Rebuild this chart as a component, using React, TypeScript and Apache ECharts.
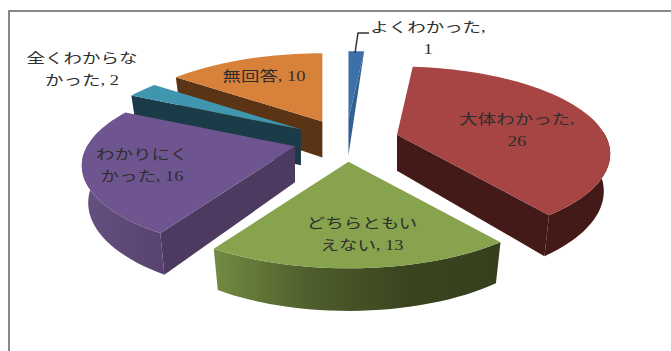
import React, { useEffect, useRef } from "react";
import * as echarts from "echarts";

const categories = ["よくわかった", "大体わかった", "どちらともいえない", "わかりにくかった", "全くわからなかった", "無回答"];
const values = [1, 26, 13, 16, 2, 10];
const labelTexts = ["よくわかった,\n1", "大体わかった,\n26", "どちらともい\nえない, 13", "わかりにく\nかった, 16", "全くわからな\nかった, 2", "無回答, 10"];

const topColors = ["#3d70a8", "#a64543", "#87a34d", "#6f558f", "#3f96ae", "#d8813b"];
const radialWall = ["#33608f", "#431a18", "#3f4b22", "#4d3a61", "#1b3b48", "#5a3414"];
const arcWallStops: string[][] = [
  ["#33608f", "#33608f"],
  ["#431a18", "#431a18"],
  ["#728b42", "#4e5e2c", "#3a4520", "#353f1c"],
  ["#66507f", "#574270"],
  ["#1b3b48", "#1b3b48"],
  ["#5a3414", "#5a3414"],
];
const labelCenters = [[428, 38], [517, 130], [362, 234], [142, 165], [82, 69], [264, 76]];

const CX = 346, CY = 140.5, R = 208, SQ = 0.4, P = 0.22, EXPLODE = 53, DEPTH = 36, SHRINK = 0.97;
const TOTAL = values.reduce((a, b) => a + b, 0);

function project(ax: number, ay: number, theta: number) {
  const u = Math.sin(theta), v = Math.cos(theta);
  const w = 1 + P * v;
  return { x: ax + (R * u) / w, y: ay - (R * SQ * v) / w, d: DEPTH / (1 + 0.7 * P * v) };
}

function renderItem(params: any, api: any) {
  const i = params.dataIndex;
  const before = values.slice(0, i).reduce((a, b) => a + b, 0);
  const a0 = (before / TOTAL) * Math.PI * 2;
  const a1 = ((before + values[i]) / TOTAL) * Math.PI * 2;
  const mid = (a0 + a1) / 2;
  const ax = CX + EXPLODE * Math.sin(mid);
  const ay = CY - EXPLODE * SQ * Math.cos(mid);
  const lowerX = (x: number) => ax + (x - ax) * SHRINK;

  const N = Math.max(4, Math.round((a1 - a0) / 0.04));
  const arc: any[] = [];
  for (let k = 0; k <= N; k++) arc.push(project(ax, ay, a0 + ((a1 - a0) * k) / N));
  const top = [[ax, ay], ...arc.map((p) => [p.x, p.y])];
  const children: any[] = [];
  const z = 10 + Math.round((1 - Math.cos(mid)) * 20);

  const addRadial = (p: any, other: any) => {
    const ex = p.x - ax, ey = p.y - ay;
    const crossM = ex * (other.y - ay) - ey * (other.x - ax);
    if (ex * crossM >= 0) return;
    const narrow = i === 0;
    children.push({
      type: "polygon",
      z2: z,
      shape: { points: [[ax, ay], [p.x, p.y], narrow ? [p.x, p.y] : [lowerX(p.x), p.y + p.d], [ax, ay + DEPTH]] },
      style: { fill: radialWall[i] },
    });
  };
  addRadial(arc[0], arc[N]);
  addRadial(arc[N], arc[0]);

  const front: any[] = [];
  for (let k = 0; k <= N; k++) {
    const t = a0 + ((a1 - a0) * k) / N;
    if (Math.cos(t) < 0.05) front.push(arc[k]);
  }
  if (front.length > 1) {
    const stops = arcWallStops[i];
    children.push({
      type: "polygon",
      z2: z + 1,
      shape: {
        points: [...front.map((p) => [p.x, p.y]), ...front.slice().reverse().map((p) => [lowerX(p.x), p.y + p.d])],
      },
      style: {
        fill: new echarts.graphic.LinearGradient(0, 0, 1, 0, stops.map((c, n) => ({ offset: n / (stops.length - 1), color: c }))),
      },
    });
  }
  children.push({ type: "polygon", z2: z + 2, shape: { points: top }, style: { fill: topColors[i] } });
  children.push({
    type: "text",
    z2: 200,
    x: labelCenters[i][0],
    y: labelCenters[i][1],
    scaleX: 1.32,
    style: {
      text: labelTexts[i],
      fill: "#2e2e2e",
      font: '14px "Liberation Serif", "Noto Sans CJK JP"',
      lineHeight: 22,
      align: "center",
      verticalAlign: "middle",
    },
  });
  return { type: "group", children };
}

export default function App() {
  const ref = useRef<HTMLDivElement>(null);
  useEffect(() => {
    const chart = echarts.init(ref.current!, undefined, { renderer: "svg" });
    chart.setOption({
      animation: false,
      backgroundColor: "#ffffff",
      graphic: [
        { type: "line", shape: { x1: 9, y1: 11, x2: 671, y2: 11 }, style: { stroke: "#888888", lineWidth: 2 } },
        { type: "line", shape: { x1: 9, y1: 10, x2: 9, y2: 351 }, style: { stroke: "#888888", lineWidth: 2 } },
        { type: "polyline", z: 10, shape: { points: [[355, 53], [358, 33], [369, 33]] }, style: { stroke: "#333333", lineWidth: 1.5, fill: "none" } },
      ],
      series: [
        {
          type: "custom",
          coordinateSystem: "none",
          renderItem,
          clip: false,
          data: categories.map((name, i) => ({ name, value: values[i] })),
        },
      ],
    });
    return () => chart.dispose();
  }, []);
  return <div ref={ref} style={{ position: "fixed", left: 0, top: 0, width: 671, height: 351 }} />;
}
